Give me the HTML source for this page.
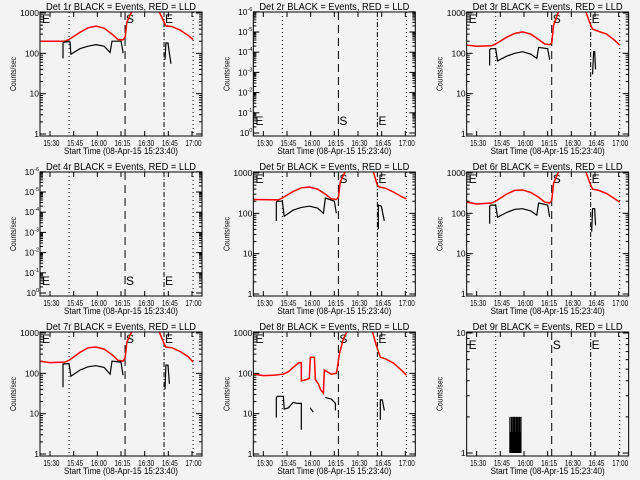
<!DOCTYPE html>
<html><head><meta charset="utf-8"><style>
html,body{margin:0;padding:0;background:#f3f3f3;}
svg{display:block;font-family:"Liberation Sans",sans-serif;}
</style></head><body>
<svg id="c" width="640" height="480" viewBox="0 0 640 480"></svg>
<script>
// time axis in minutes after start 15:23:40
const tickLabels = ["15:30","15:45","16:00","16:15","16:30","16:45","17:00"];
const tickMinutes = [6.33,21.33,36.33,51.33,66.33,81.33,96.33];
const markerMinutes = [18.4,53.9,78.6,97];
const panelTitles = ["Det 1r","Det 2r","Det 3r","Det 4r","Det 5r","Det 6r","Det 7r","Det 8r","Det 9r"];

const red1 = [[0,200],[15.8,200],[18.4,220],[25.3,330],[30.4,430],[35.5,470],[40.6,420],[45.6,300],[49.4,220],[52.6,215],[53.9,250],[55.1,600],[58.3,1100]];
const red1b = [[75.4,1100],[78.6,600],[79.8,480],[83.7,460],[88.7,380],[93.8,280],[97,220]];
const blk1 = [[14.6,75],[14.6,180],[15.2,190],[18.4,195],[19,190],[19.6,95],[25.3,130],[30.4,150],[35.5,165],[40.6,150],[44.4,105],[45.6,200],[51.3,200],[52.6,110],[52.6,100]];
const blk1b = [[79.2,70],[79.8,180],[81.1,180],[81.7,120],[83,55]];

const red3 = [[0,160],[6.3,150],[15.8,155],[18.4,170],[25.3,250],[30.4,310],[35.5,340],[40.6,300],[45.6,220],[49.4,170],[52.6,165],[53.9,180],[55.1,500],[58.3,1100]];
const red3b = [[75.4,1100],[78.6,500],[79.8,400],[83.7,350],[88.7,300],[93.8,210],[97,160]];
const blk3 = [[14.6,50],[14.6,120],[15.2,130],[18.4,130],[19.6,65],[25.3,85],[30.4,100],[35.5,110],[40.6,95],[44.4,75],[45.6,140],[51.3,130],[52.6,70]];
const blk3b = [[79.8,30],[80.5,110],[81.1,110],[81.7,40]];

const red5 = [[0,220],[15.8,215],[18.4,240],[25.3,350],[30.4,430],[35.5,450],[40.6,400],[45.6,300],[49.4,230],[52.6,220],[53.9,250],[55.1,600],[58.3,1100]];
const red5b = [[76,1100],[78.6,500],[79.8,450],[83.7,420],[88.7,340],[93.8,260],[97,230]];
const blk5 = [[14.6,65],[14.6,190],[15.2,200],[18.4,200],[19.6,85],[25.3,120],[30.4,140],[35.5,150],[40.6,135],[44.4,100],[45.6,240],[51.3,200],[52.6,100]];
const blk5b = [[79.2,40],[79.2,160],[81.1,150],[83,65]];

const red6 = [[0,190],[6.3,170],[15.8,180],[18.4,200],[25.3,300],[30.4,370],[35.5,380],[40.6,330],[45.6,250],[49.4,190],[52.6,180],[53.9,210],[55.1,550],[58.3,1100]];
const red6b = [[75.4,1100],[78.6,500],[79.8,400],[83.7,370],[88.7,310],[93.8,230],[97,190]];
const blk6 = [[14.6,55],[14.6,150],[15.2,160],[18.4,160],[19.6,80],[25.3,105],[30.4,125],[35.5,130],[40.6,115],[44.4,90],[45.6,180],[51.3,160],[52.6,80]];
const blk6b = [[79.2,35],[79.8,130],[81.1,130],[81.7,50]];

const red7 = [[0,200],[6.3,185],[15.8,190],[18.4,210],[25.3,330],[30.4,430],[35.5,450],[40.6,400],[45.6,290],[49.4,210],[52.6,200],[53.9,240],[55.1,600],[58.3,1100]];
const red7b = [[75.4,1100],[78.6,550],[79.8,450],[83.7,430],[88.7,350],[93.8,260],[97,190]];
const blk7 = [[14.6,45],[14.6,170],[15.2,170],[18.4,175],[19.6,85],[25.3,120],[30.4,145],[35.5,155],[40.6,140],[44.4,95],[45.6,200],[51.3,190],[52.6,90]];
const blk7b = [[79.2,40],[79.8,160],[81.1,160],[82,55]];

const red8 = [[0,95],[6.3,88],[12.7,90],[19,95],[22.2,110],[25.3,140],[28.5,180],[30.4,185],[30.4,65],[33.6,70],[35.5,75],[36.1,250],[38.7,250],[39.3,70],[41.2,55],[42.5,40],[44.4,32],[45,120],[47.5,105],[49.4,95],[52.6,100],[53.2,130],[54.5,300],[57,700],[59.6,1100]];
const red8b = [[75.4,1100],[77.9,500],[80.5,250],[83.7,230],[88.7,180],[93.8,120],[97,90]];
const blk8a = [[14.6,8],[14.6,25],[15.2,27],[19,27],[19.6,13],[22.2,14],[25.3,19],[27.9,18],[30.4,18],[30.4,4]];
const blk8b = [[36.1,14],[36.5,13],[38,11]];
const blk8c = [[45.6,25],[49.4,23],[52,18],[52,12]];
const blk8d = [[80.5,7],[80.5,22],[81.7,22],[83,12]];

const bars9Min = [27.4,27.9,28.4,28.8,29.2,29.6,30.0,30.4,30.8,31.2,31.6,32.0,32.4,32.8,33.2,33.6,34.0,34.4];
const bars9Val = [2,1.5,2,2,1.5,2,2,2,1.5,2,2,2,2,1.5,2,2,1.5,2];

const NS="http://www.w3.org/2000/svg";
const svg=document.getElementById('c');
function mk(tag,attrs,parent){const e=document.createElementNS(NS,tag);for(const k in attrs)e.setAttribute(k,attrs[k]);(parent||svg).appendChild(e);return e;}
const X0=40,X1=202,Y0=12,Y1=136;
const xs=m=>X0+m*1.578;

function drawPanel(idx,type,series){
  const col=idx%3,row=Math.floor(idx/3);
  const g=mk('g',{transform:`translate(${(col*213.33).toFixed(2)},${row*160})`});
  
  
  let ys;
  if(type==='main') ys=v=>134-Math.log10(v)*40.33;
  else if(type==='nine') ys=v=>133-Math.log10(v)*120;
  else ys=null;
  const cid='clip'+idx;
  const cp=mk('clipPath',{id:cid},g);mk('rect',{x:X0,y:Y0,width:X1-X0,height:Y1-Y0},cp);
  const t=mk('text',{x:46,y:10,'font-size':'10.5',fill:'#000',textLength:150,lengthAdjust:'spacingAndGlyphs'},g);
  t.textContent=panelTitles[idx]+' BLACK = Events, RED = LLD';
  
  
  tickMinutes.forEach((m,i)=>{
    const x=xs(m);
    mk('line',{x1:x,y1:Y1,x2:x,y2:Y1-5,stroke:'#000','stroke-width':1},g);
    mk('line',{x1:x,y1:Y0,x2:x,y2:Y0+5,stroke:'#000','stroke-width':1},g);
    const l=mk('text',{x:x+1.5-8,y:Y1+10,'font-size':'8.5',textLength:16,lengthAdjust:'spacingAndGlyphs'},g);
    l.textContent=tickLabels[i];
    
    
  });
  const xt=mk('text',{x:64,y:Y1+18,'font-size':'9',textLength:114,lengthAdjust:'spacingAndGlyphs'},g);
  xt.textContent='Start Time (08-Apr-15 15:23:40)';
  
  
  const yt=mk('text',{x:0,y:0,'text-anchor':'middle','font-size':'8',textLength:34,lengthAdjust:'spacingAndGlyphs',transform:`translate(16,${(Y0+Y1)/2}) rotate(-90)`},g);
  yt.textContent='Counts/sec';
  
  
  function yt2(y,len){mk('line',{x1:X0,y1:y,x2:X0+len,y2:y,stroke:'#000'},g);mk('line',{x1:X1,y1:y,x2:X1-len,y2:y,stroke:'#000'},g);}
  function ylab(y,txt,sup){const e=mk('text',{x:X0-1,y:y+3,'text-anchor':'end','font-size':'8.5'},g);e.textContent=txt;
    if(sup){const s=mk('tspan',{dy:-4,'font-size':'5.5'},e);s.textContent=sup;}
    
    }
  if(type==='main'){
    [1,10,100,1000].forEach(v=>{yt2(ys(v),6);ylab(ys(v),String(v));});
    for(let d=1;d<=100;d*=10)for(let k=2;k<10;k++)yt2(ys(d*k),3);
  } else if(type==='nine'){
    [1,10].forEach(v=>{yt2(ys(v),6);ylab(ys(v),String(v));});
    for(let k=2;k<10;k++)yt2(ys(k),3);
  } else {
    for(let d=0;d<=6;d++){const y=133-d*20.2;yt2(y,6);ylab(y,'10',d===0?'0':'-'+d);
      if(d<6)for(let k=2;k<10;k++)yt2(y-Math.log10(k)*20.2,3);}
  }
  const dashes=['1,3','8,5','5,2,1,2','1,3'];
  markerMinutes.forEach((m,i)=>{const x=xs(m);
    const l=mk('line',{x1:x,y1:Y0,x2:x,y2:Y1,stroke:'#000','stroke-width':1,'stroke-dasharray':dashes[i]},g);
    
    });
  const ly=type==='flat'?125:(type==='nine'?29:23);
  [['E',X0+2],['S',xs(53.9)+1],['E',xs(78.6)+1]].forEach(([s,x])=>{
    const e=mk('text',{x:x,y:ly,'font-size':'12'},g);e.textContent=s;
    
    });
  const dg=mk('g',{'clip-path':`url(#${cid})`},g);
  if(series){
    series.red.forEach(arr=>{const p=mk('polyline',{points:arr.map(d=>xs(d[0]).toFixed(1)+','+ys(d[1]).toFixed(1)).join(' '),fill:'none',stroke:'#ff0000','stroke-width':1.5},dg);
      
      });
    series.black.forEach(arr=>{const p=mk('polyline',{points:arr.map(d=>xs(d[0]).toFixed(1)+','+ys(d[1]).toFixed(1)).join(' '),fill:'none',stroke:'#000','stroke-width':1.2},dg);
      
      });
  }
  if(type==='nine'){
    bars9Min.forEach((m,i)=>{const l=mk('line',{x1:xs(m),y1:ys(1),x2:xs(m),y2:ys(bars9Val[i]),stroke:'#000','stroke-width':1.2},dg);
      
      });
  }
  const fr=mk('rect',{x:X0,y:Y0,width:X1-X0,height:Y1-Y0,fill:'none',stroke:'#000','stroke-width':1},g);
  
  
}
drawPanel(0,'main',{red:[red1,red1b],black:[blk1,blk1b]});
drawPanel(1,'flat',null);
drawPanel(2,'main',{red:[red3,red3b],black:[blk3,blk3b]});
drawPanel(3,'flat',null);
drawPanel(4,'main',{red:[red5,red5b],black:[blk5,blk5b]});
drawPanel(5,'main',{red:[red6,red6b],black:[blk6,blk6b]});
drawPanel(6,'main',{red:[red7,red7b],black:[blk7,blk7b]});
drawPanel(7,'main',{red:[red8,red8b],black:[blk8a,blk8b,blk8c,blk8d]});
drawPanel(8,'nine',null);
</script>
</body></html>
